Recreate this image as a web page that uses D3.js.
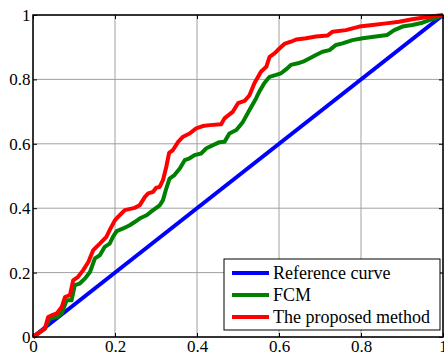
<!DOCTYPE html>
<html><head><meta charset="utf-8">
<script src="https://cdn.jsdelivr.net/npm/d3@7"></script>
<style>body{margin:0;background:#fff}svg{display:block}text{font-family:"Liberation Serif","Times New Roman",serif}</style>
</head><body>
<script>
const ticks = [0, 0.2, 0.4, 0.6, 0.8, 1];
const tickLabels = ["0", "0.2", "0.4", "0.6", "0.8", "1"];
const seriesNames = ["Reference curve", "FCM", "The proposed method"];
const seriesColors = ["#0000ff", "#008000", "#ff0000"];

const refX = [0, 1];
const refY = [0, 1];

const fcmX = [0,0.029,0.041,0.058,0.070,0.082,0.094,0.102,0.114,0.127,0.139,0.151,0.163,0.175,0.187,0.195,0.204,0.220,0.236,0.248,0.260,0.277,0.293,0.309,0.317,0.325,0.333,0.345,0.358,0.370,0.382,0.394,0.410,0.423,0.439,0.455,0.467,0.479,0.496,0.512,0.528,0.544,0.552,0.564,0.577,0.593,0.605,0.617,0.629,0.646,0.662,0.674,0.690,0.706,0.723,0.739,0.755,0.779,0.804,0.836,0.864,0.881,0.901,0.925,0.950,0.966,0.982,1];
const fcmY = [0,0.026,0.057,0.062,0.073,0.114,0.114,0.161,0.166,0.182,0.202,0.244,0.254,0.280,0.290,0.311,0.329,0.337,0.347,0.357,0.368,0.378,0.394,0.409,0.425,0.461,0.492,0.503,0.523,0.549,0.555,0.565,0.570,0.586,0.596,0.605,0.606,0.632,0.643,0.668,0.705,0.741,0.762,0.788,0.808,0.814,0.819,0.831,0.845,0.850,0.857,0.865,0.876,0.886,0.891,0.907,0.912,0.922,0.928,0.933,0.938,0.953,0.964,0.969,0.976,0.984,0.990,1];

const propX = [0,0.029,0.037,0.045,0.058,0.070,0.078,0.090,0.098,0.110,0.122,0.135,0.147,0.163,0.179,0.187,0.200,0.212,0.224,0.248,0.260,0.273,0.281,0.293,0.301,0.309,0.317,0.325,0.332,0.341,0.354,0.366,0.382,0.398,0.414,0.431,0.459,0.467,0.487,0.500,0.516,0.528,0.540,0.556,0.569,0.577,0.589,0.601,0.613,0.629,0.642,0.666,0.690,0.718,0.731,0.763,0.796,0.828,0.861,0.893,0.925,0.958,1];
const propY = [0,0.026,0.062,0.067,0.073,0.093,0.124,0.130,0.176,0.187,0.207,0.233,0.270,0.290,0.311,0.332,0.363,0.379,0.394,0.401,0.409,0.435,0.446,0.451,0.464,0.466,0.487,0.528,0.572,0.580,0.606,0.622,0.632,0.648,0.655,0.658,0.661,0.679,0.699,0.726,0.733,0.751,0.788,0.824,0.839,0.870,0.881,0.896,0.910,0.917,0.924,0.928,0.933,0.936,0.948,0.953,0.964,0.969,0.974,0.979,0.987,0.993,1];

const W = 444, H = 358;
const L = 33, R = 443, T = 15, B = 337;
const x = d3.scaleLinear().domain([0, 1]).range([L, R]);
const y = d3.scaleLinear().domain([0, 1]).range([B, T]);

const svg = d3.select("body").append("svg").attr("width", W).attr("height", H);

// grid
const g = svg.append("g");
ticks.forEach(t => {
  g.append("line").attr("x1", x(t)).attr("x2", x(t)).attr("y1", T).attr("y2", B)
    .attr("stroke", "#a0a0a0").attr("stroke-width", 1);
  g.append("line").attr("x1", L).attr("x2", R).attr("y1", y(t)).attr("y2", y(t))
    .attr("stroke", "#a0a0a0").attr("stroke-width", 1);
});

// axes with inward ticks
const xb = svg.append("g").attr("transform", `translate(0,${B})`)
  .call(d3.axisBottom(x).tickValues(ticks).tickFormat((d, i) => tickLabels[i]).tickSizeInner(-4).tickSizeOuter(0).tickPadding(4));
const yl = svg.append("g").attr("transform", `translate(${L},0)`)
  .call(d3.axisLeft(y).tickValues(ticks).tickFormat((d, i) => tickLabels[i]).tickSizeInner(-4).tickSizeOuter(0).tickPadding(2.5));
const xt = svg.append("g").attr("transform", `translate(0,${T})`)
  .call(d3.axisTop(x).tickValues(ticks).tickFormat("").tickSizeInner(-4).tickSizeOuter(0));
const yr = svg.append("g").attr("transform", `translate(${R},0)`)
  .call(d3.axisRight(y).tickValues(ticks).tickFormat("").tickSizeInner(-4).tickSizeOuter(0));
[xb, yl, xt, yr].forEach(a => {
  a.selectAll(".domain").remove();
  a.selectAll("line").attr("stroke", "#000");
  a.selectAll("text").attr("font-family", null).attr("font-size", 17).attr("fill", "#000");
});
xb.selectAll("text").attr("dy", "0.66em");

// lines
const line = d3.line().x(d => x(d[0])).y(d => y(d[1]));
const series = [
  d3.zip(refX, refY),
  d3.zip(fcmX, fcmY),
  d3.zip(propX, propY)
];
series.forEach((s, i) => {
  svg.append("path").datum(s).attr("d", line).attr("fill", "none")
    .attr("stroke", seriesColors[i]).attr("stroke-width", 4).attr("stroke-linejoin", "round");
});

// frame
svg.append("rect").attr("x", L).attr("y", T).attr("width", R - L).attr("height", B - T)
  .attr("fill", "none").attr("stroke", "#000").attr("stroke-width", 1.5);

// legend
const lg = svg.append("g");
lg.append("rect").attr("x", 224).attr("y", 259).attr("width", 216).attr("height", 71)
  .attr("fill", "#fff").attr("stroke", "#000").attr("stroke-width", 1);
seriesNames.forEach((n, i) => {
  const cy = 273 + i * 22;
  lg.append("line").attr("x1", 232).attr("x2", 269).attr("y1", cy).attr("y2", cy)
    .attr("stroke", seriesColors[i]).attr("stroke-width", 4);
  lg.append("text").attr("x", 273).attr("y", cy + 5.5).text(n)
    .attr("font-size", 18).attr("fill", "#000");
});
</script>
</body></html>
